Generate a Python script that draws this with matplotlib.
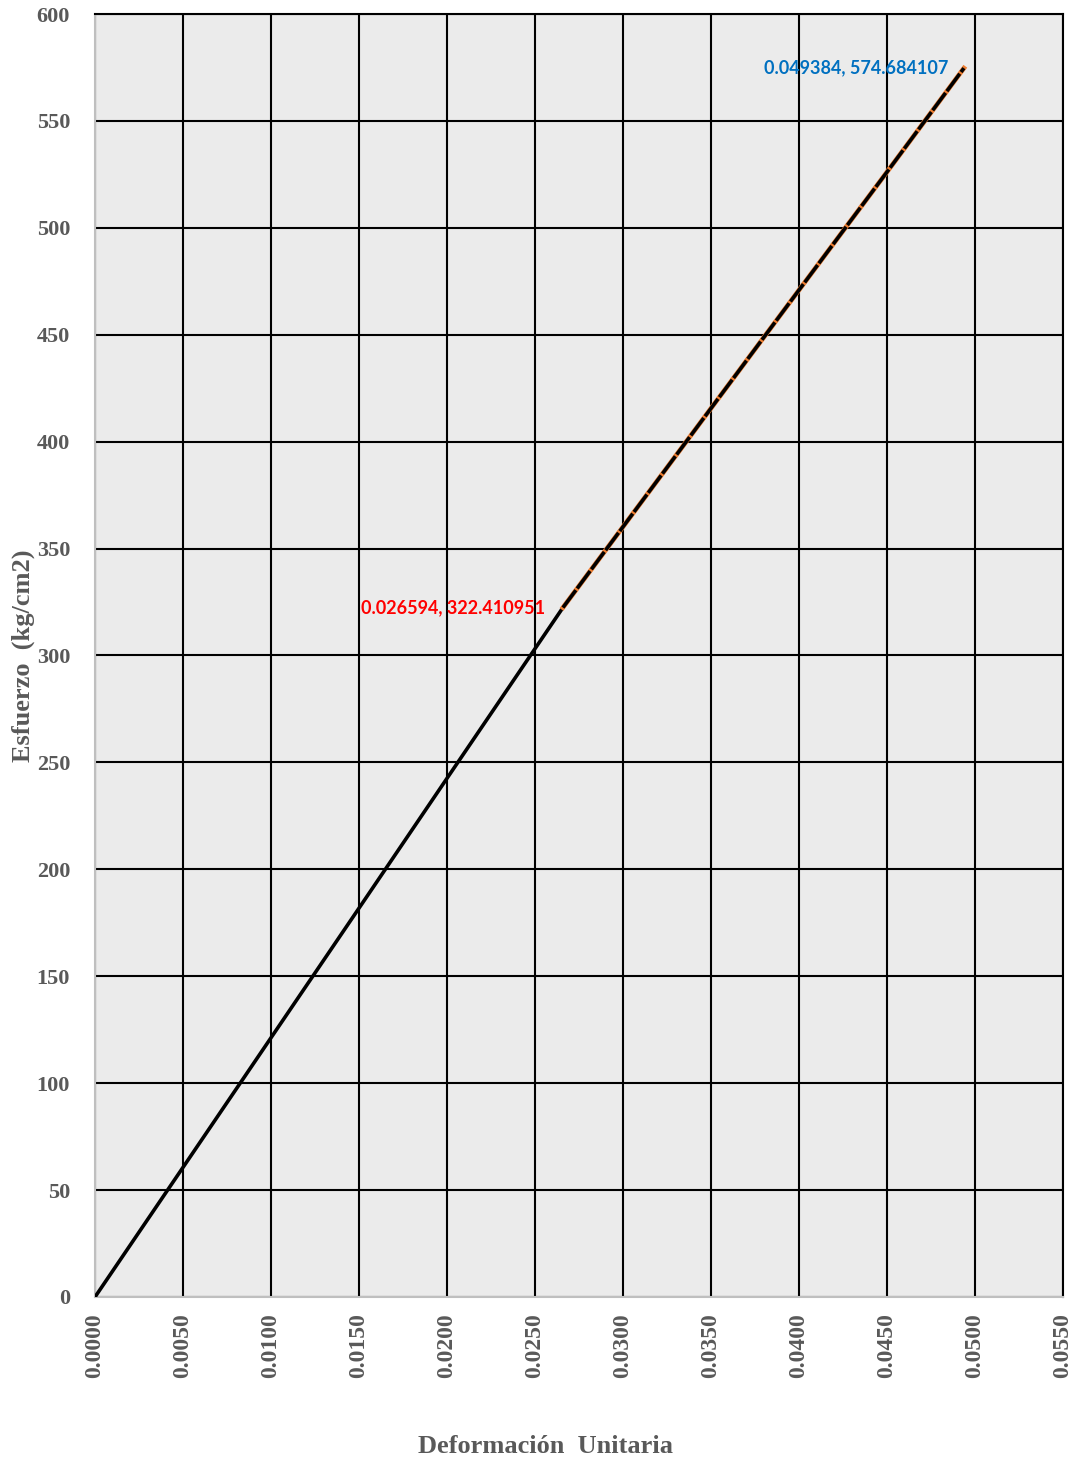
import matplotlib.pyplot as plt
import numpy as np

# Stress-strain data
strain_elastic = [0.0, 0.0050, 0.0100, 0.0150, 0.0200, 0.0250, 0.026594]
stress_elastic = [0.0, 60.6, 121.2, 181.8, 242.5, 303.1, 322.410951]

strain_fit = [0.026594, 0.0300, 0.0350, 0.0400, 0.0450, 0.049384]
stress_fit = [322.410951, 360.1, 415.5, 470.8, 526.0, 574.684107]

x_ticks = np.arange(0, 0.0551, 0.005)
y_ticks = np.arange(0, 601, 50)

gray = "#595959"
serif = ["Liberation Serif", "DejaVu Serif"]
sans = ["Lato", "DejaVu Sans"]

fig = plt.figure(figsize=(10.8, 14.62), dpi=100)
ax = fig.add_axes([0.088, 0.1129, 0.896, 0.8775])
ax.set_facecolor("#ebebeb")

ax.plot(strain_elastic, stress_elastic, color="black", lw=2.6, zorder=3)
ax.plot(strain_fit, stress_fit, color="#ed7d31", lw=3.4, zorder=3)
ax.plot(strain_fit, stress_fit, color="black", lw=2.6, ls=(0, (6, 0.6)), zorder=4)

ax.text(0.026594 - 0.0010, 322.41, "0.026594, 322.410951", color="red",
        fontsize=13, fontweight="bold", family=sans,
        ha="right", va="center", zorder=5)
ax.text(0.049384 - 0.0009, 574.68, "0.049384, 574.684107", color="#0070c0",
        fontsize=13, fontweight="bold", family=sans,
        ha="right", va="center", zorder=5)

ax.set_xlim(0, 0.055)
ax.set_ylim(0, 600)
ax.set_xticks(x_ticks)
ax.set_yticks(y_ticks)
ax.set_xticklabels(["%.4f" % v for v in x_ticks], rotation=90)
ax.set_yticklabels(["%d" % v for v in y_ticks])
ax.grid(True, color="black", lw=1.5, zorder=1)
ax.set_axisbelow(True)
ax.tick_params(length=0, labelcolor=gray)
ax.tick_params(axis="x", pad=12, labelsize=17)
ax.tick_params(axis="y", pad=18, labelsize=16)
for lab in ax.get_xticklabels() + ax.get_yticklabels():
    lab.set_family(serif)
    lab.set_fontweight("bold")

for side in ["left", "bottom"]:
    ax.spines[side].set_color("#bfbfbf")
    ax.spines[side].set_linewidth(1.5)
for side in ["top", "right"]:
    ax.spines[side].set_color("black")
    ax.spines[side].set_linewidth(1.5)

ax.set_xlabel("Deformación  Unitaria", fontsize=19, fontweight="bold",
              color=gray, family=serif)
ax.xaxis.set_label_coords(0.465, -0.108)
ax.set_ylabel("Esfuerzo  (kg/cm2)", fontsize=19, fontweight="bold",
              color=gray, family=serif)
ax.yaxis.set_label_coords(-0.062, 0.5)

fig.savefig("out.png", dpi=100)
